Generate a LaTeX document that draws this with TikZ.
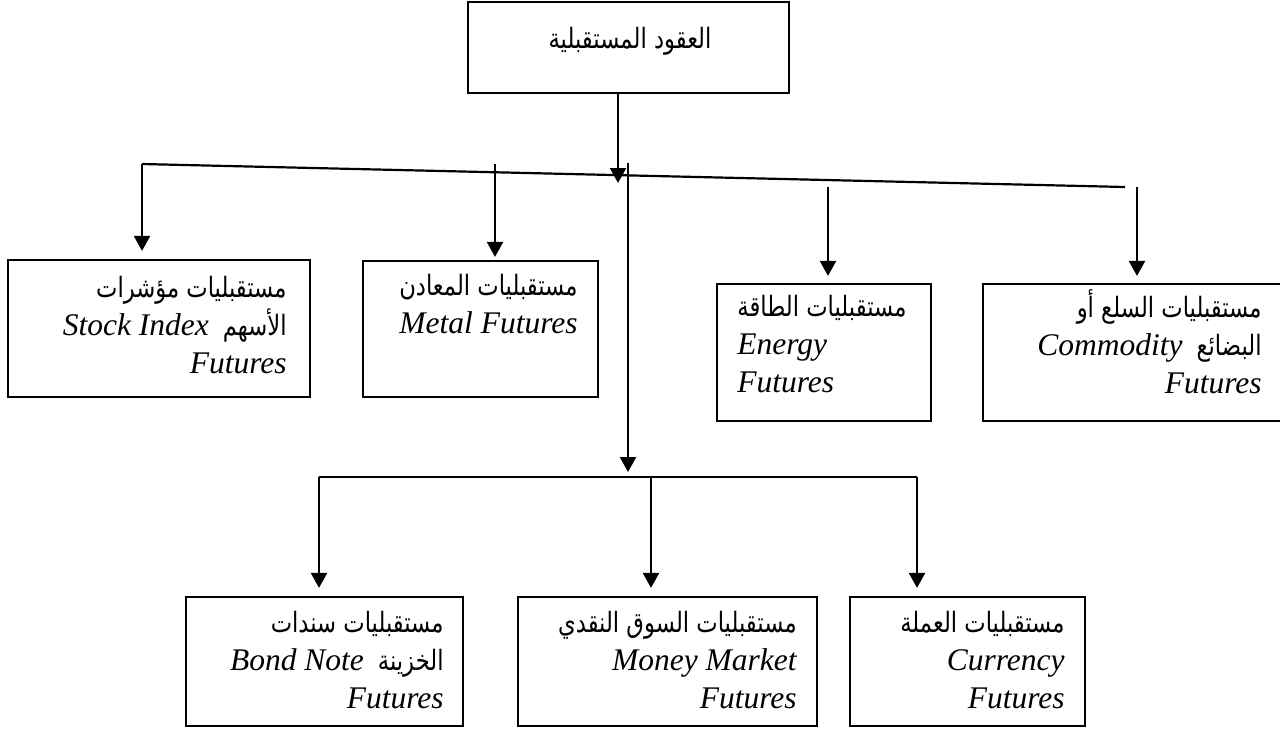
\documentclass[tikz,border=0pt]{standalone}
\usepackage{fontspec}
\setmainfont{Liberation Serif}
\newfontfamily\arabicfont[Script=Arabic,FakeStretch=0.81]{DejaVu Sans}
\TeXXeTstate=1
\usetikzlibrary{arrows.meta,fit}
\newcommand\artxt[1]{{\arabicfont\fontsize{14}{19}\selectfont\beginR #1\endR}}
\newcommand\entxt[1]{{\itshape #1}}
\begin{document}
\begin{tikzpicture}[x=0.5pt,y=-0.5pt,
  box/.style={draw, line width=1.1pt, inner sep=0pt, fit={#1}},
  txt/.style={inner sep=0pt, font=\fontsize{15.75}{19}\selectfont},
  arr/.style={line width=1.1pt, -{Triangle[width=8pt,length=7.5pt]}, shorten >=3.5pt},
  ln/.style={line width=1.1pt}]
\useasboundingbox (0,0) rectangle (1280,735);

% boxes
\node[box={(468,2)(789,93)}] (top) {};
\node[box={(8,260)(310,397)}] (stock) {};
\node[box={(363,261)(598,397)}] (metal) {};
\node[box={(717,284)(931,421)}] (energy) {};
\node[box={(983,284)(1284,421)}] (commodity) {};
\node[box={(186,597)(463,726)}] (bond) {};
\node[box={(518,597)(817,726)}] (money) {};
\node[box={(850,597)(1085,726)}] (currency) {};

% texts
\node[txt] (topT) at (630,41) {\artxt{العقود المستقبلية}};
\node[txt, anchor=base east] (stockT) at (287,297) {\begin{tabular}[t]{@{}r@{}}
  \artxt{مستقبليات مؤشرات}\\
  \entxt{Stock Index}\hspace{7pt}\artxt{الأسهم}\\
  \entxt{Futures}\end{tabular}};
\node[txt, anchor=base east] (metalT) at (578,295) {\begin{tabular}[t]{@{}r@{}}
  \artxt{مستقبليات المعادن}\\
  \entxt{Metal Futures}\end{tabular}};
\node[txt, anchor=base west] (energyT) at (737,316) {\begin{tabular}[t]{@{}l@{}}
  \artxt{مستقبليات الطاقة}\\
  \entxt{Energy}\\
  \entxt{Futures}\end{tabular}};
\node[txt, anchor=base east] (commodityT) at (1262,317) {\begin{tabular}[t]{@{}r@{}}
  \artxt{مستقبليات السلع أو}\\
  \entxt{Commodity}\hspace{7pt}\artxt{البضائع}\\
  \entxt{Futures}\end{tabular}};
\node[txt, anchor=base east] (bondT) at (444,632) {\begin{tabular}[t]{@{}r@{}}
  \artxt{مستقبليات سندات}\\
  \entxt{Bond Note}\hspace{7pt}\artxt{الخزينة}\\
  \entxt{Futures}\end{tabular}};
\node[txt, anchor=base east] (moneyT) at (797,632) {\begin{tabular}[t]{@{}r@{}}
  \artxt{مستقبليات السوق النقدي}\\
  \entxt{Money Market}\\
  \entxt{Futures}\end{tabular}};
\node[txt, anchor=base east] (currencyT) at (1065,632) {\begin{tabular}[t]{@{}r@{}}
  \artxt{مستقبليات العملة}\\
  \entxt{Currency}\\
  \entxt{Futures}\end{tabular}};

% junction coordinates
\coordinate (j0) at (618,183);
\coordinate (sl) at (142,164);
\coordinate (sr) at (1125,187);
\coordinate (m0) at (495,164);
\coordinate (e0) at (828,187);
\coordinate (c0) at (1137,187);
\coordinate (b0) at (628,163);
\coordinate (bj) at (628,472);
\coordinate (hl) at (319,477);
\coordinate (hm) at (651,477);
\coordinate (hr) at (917,477);

% connectors
\draw[arr, shorten >=0pt] (top.south -| j0) -- (j0);
\draw[ln] (sl) -- (sr);
\draw[arr, shorten >=4pt] (sl) -- (sl |- stock.north);
\draw[arr, shorten >=1.5pt] (m0) -- (m0 |- metal.north);
\draw[arr] (e0) -- (e0 |- energy.north);
\draw[arr] (c0) -- (c0 |- commodity.north);
\draw[arr, shorten >=0pt] (b0) -- (bj);
\draw[ln] (hl) -- (hr);
\draw[arr, shorten >=4pt] (hl) -- (hl |- bond.north);
\draw[arr, shorten >=4pt] (hm) -- (hm |- money.north);
\draw[arr, shorten >=4pt] (hr) -- (hr |- currency.north);
\end{tikzpicture}
\end{document}
